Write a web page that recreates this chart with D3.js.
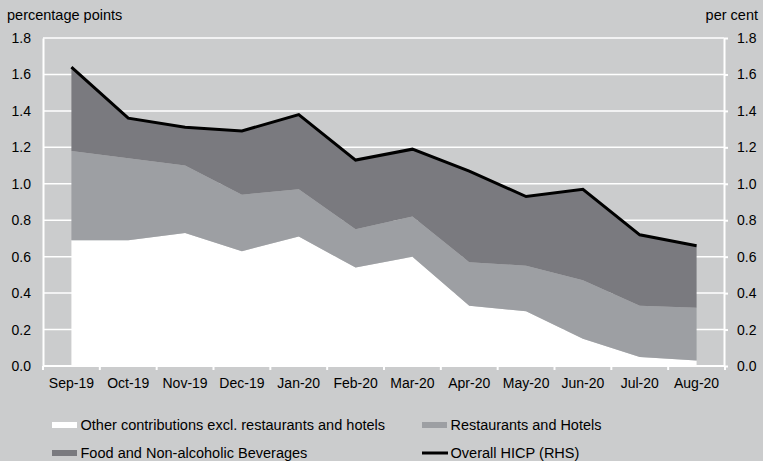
<!DOCTYPE html>
<html><head><meta charset="utf-8">
<script src="https://cdn.jsdelivr.net/npm/d3@7"></script>
<style>
body{margin:0;background:#cbcccd;}
svg{display:block;font-family:"Liberation Sans",Arial,sans-serif;}
</style></head><body>
<svg id="c" width="763" height="461"></svg>
<script>
const categories = ["Sep-19","Oct-19","Nov-19","Dec-19","Jan-20","Feb-20","Mar-20","Apr-20","May-20","Jun-20","Jul-20","Aug-20"];
const other = [0.69,0.69,0.73,0.63,0.71,0.54,0.60,0.33,0.30,0.15,0.05,0.03];
const restaurants = [0.49,0.45,0.37,0.31,0.26,0.21,0.22,0.24,0.25,0.32,0.28,0.29];
const food = [0.46,0.22,0.21,0.35,0.41,0.38,0.37,0.50,0.38,0.50,0.39,0.34];
const hicp = [1.64,1.36,1.31,1.29,1.38,1.13,1.19,1.07,0.93,0.97,0.72,0.66];
const yTicks = [0,0.2,0.4,0.6,0.8,1.0,1.2,1.4,1.6,1.8];
const seriesNames = ["Other contributions excl. restaurants and hotels","Restaurants and Hotels","Food and Non-alcoholic Beverages","Overall HICP (RHS)"];
const colors = ["#ffffff","#9d9fa3","#7a7a7f","#000000"];

const svg = d3.select("#c");
const L = 43, R = 725, T = 38, B = 366;
const x = d3.scaleBand().domain(categories).range([L, R]).padding(0);
const y = d3.scaleLinear().domain([0,1.8]).range([B, T]);
const cx = c => x(c) + x.bandwidth()/2;

// gridlines
svg.append("g").selectAll("line").data(yTicks.filter(d=>d>0)).join("line")
  .attr("x1", L).attr("x2", R-1).attr("y1", d=>y(d)).attr("y2", d=>y(d))
  .attr("stroke","#ffffff").attr("stroke-width",1.5);

// stacked areas
const rows = categories.map((c,i)=>({cat:c, other:other[i], restaurants:restaurants[i], food:food[i]}));
const stack = d3.stack().keys(["other","restaurants","food"]);
const layers = stack(rows);
const area = d3.area().x(d=>cx(d.data.cat)).y0(d=>y(d[0])).y1(d=>y(d[1]));
svg.append("g").selectAll("path").data(layers).join("path")
  .attr("d", area).attr("fill",(d,i)=>colors[i]);

// line
const line = d3.line().x((d,i)=>cx(categories[i])).y(d=>y(d));
svg.append("path").datum(hicp).attr("d", line).attr("fill","none")
  .attr("stroke","#000").attr("stroke-width",3).attr("stroke-linejoin","miter");

// left axis
const fmt = d3.format(".1f");
const gl = svg.append("g").attr("transform",`translate(${L},0)`)
  .call(d3.axisLeft(y).tickValues(yTicks).tickFormat(fmt).tickSize(0).tickPadding(12));
gl.select(".domain").attr("stroke","#fff").attr("stroke-width",2);
gl.selectAll("text").attr("font-size",14).attr("fill","#000").attr("font-family","Liberation Sans, Arial, sans-serif");

// right axis
const gr = svg.append("g").attr("transform",`translate(${R-1},0)`)
  .call(d3.axisRight(y).tickValues(yTicks).tickFormat(fmt).tickSize(4).tickSizeOuter(0).tickPadding(9));
gr.select(".domain").attr("stroke","#fff").attr("stroke-width",2);
gr.selectAll("line").attr("stroke","#fff").attr("stroke-width",2);
gr.selectAll("text").attr("font-size",14).attr("fill","#000").attr("font-family","Liberation Sans, Arial, sans-serif");

// bottom axis
const gb = svg.append("g").attr("transform",`translate(0,${B})`);
gb.append("line").attr("x1",L).attr("x2",R).attr("y1",0).attr("y2",0).attr("stroke","#fff").attr("stroke-width",2);
const edges = categories.map(c=>x(c)).concat([x(categories[categories.length-1])+x.bandwidth()]);
gb.selectAll("line.t").data(edges).join("line").attr("class","t")
  .attr("x1",d=>d).attr("x2",d=>d).attr("y1",0).attr("y2",4).attr("stroke","#fff").attr("stroke-width",2);
gb.selectAll("text").data(categories).join("text")
  .attr("x",d=>cx(d)).attr("y",22).attr("text-anchor","middle")
  .attr("font-size",14).attr("fill","#000").text(d=>d);

// axis titles
svg.append("text").attr("x",7).attr("y",20).attr("font-size",14.5).text("percentage points");
svg.append("text").attr("x",758).attr("y",20).attr("text-anchor","end").attr("font-size",14.5).text("per cent");

// legend
const legW = [305,151,227,129];
const leg = [
  {name:seriesNames[0], c:colors[0], x:52, y:425, type:"rect", w:legW[0]},
  {name:seriesNames[1], c:colors[1], x:422, y:425, type:"rect", w:legW[1]},
  {name:seriesNames[2], c:colors[2], x:52, y:453, type:"rect", w:legW[2]},
  {name:seriesNames[3], c:colors[3], x:422, y:453, type:"line", w:legW[3]}
];
const lg = svg.append("g");
leg.forEach(d=>{
  if(d.type==="rect"){
    lg.append("rect").attr("x",d.x).attr("y",d.y-3).attr("width",25).attr("height",6).attr("fill",d.c);
  } else {
    lg.append("line").attr("x1",d.x).attr("x2",d.x+26).attr("y1",d.y).attr("y2",d.y).attr("stroke",d.c).attr("stroke-width",3);
  }
  const t = lg.append("text").attr("x",0).attr("y",0).attr("dy","0.35em")
    .attr("font-size",15.5).attr("fill","#000").text(d.name);
  const nat = t.node().getComputedTextLength();
  t.attr("transform",`translate(${d.x+28.5},${d.y}) scale(${d.w/nat},1)`);
});
</script>
</body></html>
